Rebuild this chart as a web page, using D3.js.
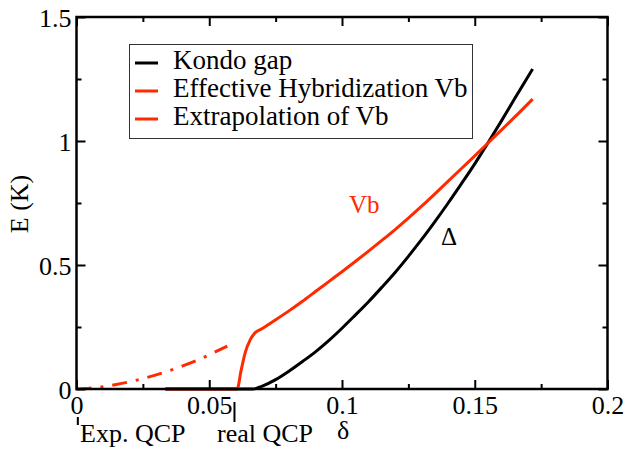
<!DOCTYPE html>
<html><head><meta charset="utf-8">
<script src="https://cdn.jsdelivr.net/npm/d3@7/dist/d3.min.js"></script>
<style>body{margin:0;background:#fff}svg{display:block}</style>
</head><body><svg id="c" width="636" height="450"></svg>
<script>
const xTicks = [0, 0.05, 0.1, 0.15, 0.2];
const xTickLabels = ["0", "0.05", "0.1", "0.15", "0.2"];
const yTicks = [0, 0.5, 1, 1.5];
const yTickLabels = ["0", "0.5", "1", "1.5"];
const kondoDelta = [0.0335,0.0665,0.07,0.075,0.08,0.085,0.09,0.095,0.10,0.105,0.11,0.115,0.12,0.125,0.13,0.135,0.14,0.145,0.15,0.155,0.16,0.165,0.1718];
const kondoGap   = [0,0,0.012,0.038,0.072,0.11,0.15,0.195,0.245,0.298,0.352,0.41,0.47,0.535,0.603,0.675,0.75,0.828,0.908,0.993,1.08,1.17,1.29];
const vbDelta = [0.0335,0.0605,0.062,0.0635,0.0655,0.067,0.07,0.075,0.08,0.085,0.09,0.095,0.10,0.105,0.11,0.115,0.12,0.125,0.13,0.135,0.14,0.145,0.15,0.155,0.16,0.165,0.1718];
const vbValue = [0,0,0.075,0.145,0.2,0.224,0.244,0.279,0.315,0.353,0.393,0.433,0.473,0.514,0.556,0.599,0.643,0.689,0.737,0.787,0.838,0.889,0.94,0.992,1.044,1.096,1.169];
const extDelta = [0,0.005,0.01,0.015,0.02,0.025,0.03,0.035,0.04,0.045,0.05,0.0568];
const extValue = [0,0.003,0.009,0.018,0.029,0.042,0.057,0.074,0.093,0.114,0.138,0.173];
const legendLabels = ["Kondo gap","Effective Hybridization Vb","Extrapolation of Vb"];

(function(){
const RED = "#ff2a00";
const FONT = '"Liberation Serif"';
const svg = d3.select("#c");
const x = d3.scaleLinear().domain([0,0.2]).range([76.5,607.5]);
const y = d3.scaleLinear().domain([0,1.5]).range([389,17]);
const FS = 26;
function txt(sel){ return sel.style("font-family",FONT).attr("fill","#000"); }

const line = d3.line().x(d=>x(d[0])).y(d=>y(d[1])).curve(d3.curveMonotoneX);
const kondo = kondoDelta.map((d,i)=>[d,kondoGap[i]]);
const vb = vbDelta.map((d,i)=>[d,vbValue[i]]);
const ext = extDelta.map((d,i)=>[d,extValue[i]]);
svg.append("path").attr("d",line(kondo)).attr("fill","none").attr("stroke","#000").attr("stroke-width",3);
svg.append("path").attr("d",line(vb)).attr("fill","none").attr("stroke",RED).attr("stroke-width",3).attr("stroke-linejoin","round");
svg.append("path").attr("d",line(kondo.filter(d=>d[1]===0 && d[0]<=0.0605).concat([[0.0605,0]])))
  .attr("fill","none").attr("stroke","#000").attr("stroke-opacity",0.4).attr("stroke-width",3);
svg.append("path").attr("d",line(ext)).attr("fill","none").attr("stroke",RED).attr("stroke-width",3).attr("stroke-dasharray","15,9,3,9");

svg.append("rect").attr("x",x(0)).attr("y",y(1.5)).attr("width",x(0.2)-x(0)).attr("height",y(0)-y(1.5))
  .attr("fill","none").attr("stroke","#000").attr("stroke-width",2.5);

const xMinor = [0.025,0.075,0.125,0.175];
const yMinor = [0.25,0.75,1.25];
const gB = svg.append("g").attr("transform",`translate(0,${y(0)})`)
  .call(d3.axisBottom(x).tickValues(xTicks).tickSize(-9).tickFormat((d,i)=>xTickLabels[i]));
svg.append("g").attr("transform",`translate(0,${y(1.5)})`).call(d3.axisTop(x).tickValues(xTicks).tickSize(-9).tickFormat(""));
const gL = svg.append("g").attr("transform",`translate(${x(0)},0)`)
  .call(d3.axisLeft(y).tickValues(yTicks).tickSize(-9).tickFormat((d,i)=>yTickLabels[i]));
svg.append("g").attr("transform",`translate(${x(0.2)},0)`).call(d3.axisRight(y).tickValues(yTicks).tickSize(-9).tickFormat(""));
svg.append("g").attr("transform",`translate(0,${y(0)})`).call(d3.axisBottom(x).tickValues(xMinor).tickSize(-5).tickFormat(""));
svg.append("g").attr("transform",`translate(0,${y(1.5)})`).call(d3.axisTop(x).tickValues(xMinor).tickSize(-5).tickFormat(""));
svg.append("g").attr("transform",`translate(${x(0)},0)`).call(d3.axisLeft(y).tickValues(yMinor).tickSize(-5).tickFormat(""));
svg.append("g").attr("transform",`translate(${x(0.2)},0)`).call(d3.axisRight(y).tickValues(yMinor).tickSize(-5).tickFormat(""));
svg.selectAll(".domain").remove();
svg.selectAll("g").attr("font-family",null);
svg.selectAll(".tick line").attr("stroke","#000").attr("stroke-width",2);
svg.selectAll(".tick text").attr("font-size",FS).style("font-family",FONT).attr("fill","#000");
gB.selectAll(".tick text").attr("y",25).attr("dy",0);
gL.selectAll(".tick text").attr("x",-5).attr("dy",0).attr("y",9.5);

txt(svg.append("text")).attr("transform","translate(28,204) rotate(-90)").attr("text-anchor","middle")
  .attr("font-size",FS).text("E (K)");
txt(svg.append("text")).attr("x",337).attr("y",439).attr("font-size",FS).text("δ");

svg.append("line").attr("x1",x(0.0005)).attr("x2",x(0.0005)).attr("y1",417).attr("y2",425).attr("stroke","#000").attr("stroke-width",2);
txt(svg.append("text")).attr("x",80).attr("y",442).attr("font-size",FS).text("Exp. QCP");
svg.append("line").attr("x1",x(0.0595)).attr("x2",x(0.0595)).attr("y1",402).attr("y2",422).attr("stroke","#000").attr("stroke-width",2);
txt(svg.append("text")).attr("x",217).attr("y",442).attr("font-size",FS).text("real QCP");

txt(svg.append("text")).attr("x",349).attr("y",213).attr("font-size",25).attr("fill",RED).text("Vb");
txt(svg.append("text")).attr("x",441).attr("y",245).attr("font-size",25).text("Δ");

const lg = svg.append("g");
lg.append("rect").attr("x",129.5).attr("y",44.5).attr("width",343).attr("height",94).attr("fill","#fff").attr("stroke","#333").attr("stroke-width",1);
const lcol = ["#000",RED,RED];
legendLabels.forEach((t,i)=>{
  const yy = 63 + i*28;
  lg.append("line").attr("x1",135).attr("x2",158).attr("y1",yy).attr("y2",yy).attr("stroke",lcol[i]).attr("stroke-width",3);
  txt(lg.append("text")).attr("x",173).attr("y",yy+5.5).attr("font-size",27).text(t);
});
})();
</script></body></html>
